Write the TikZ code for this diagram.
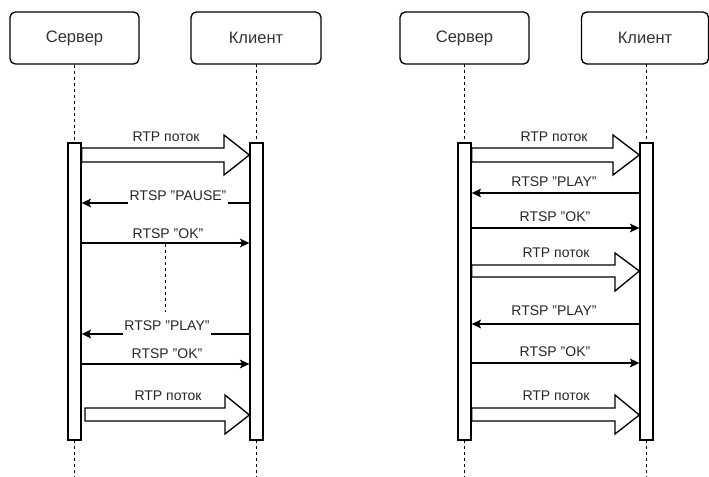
\documentclass[tikz,border=0pt]{standalone}
\usepackage{fontspec}
\setmainfont{Liberation Sans}
\usetikzlibrary{arrows.meta}
\begin{document}
\begin{tikzpicture}[x=0.75pt,y=-0.75pt,
  actor/.style={draw,line width=1pt,rounded corners=4pt,minimum width=96.75pt,minimum height=39pt,inner sep=0pt,font=\fontsize{12.4}{14}\selectfont,text=black!80},
  bar/.style={draw,line width=1pt,fill=white,minimum width=9.75pt,minimum height=222.75pt,inner sep=0pt},
  life/.style={line width=0.75pt,dash pattern=on 2.25pt off 2.25pt},
  msg/.style={line width=0.9pt,-{Stealth[length=7pt,width=6.5pt,inset=1.5pt]}},
  fat/.style={draw,line width=1pt,fill=white,line join=miter},
  lbl/.style={font=\fontsize{10.5}{12}\selectfont,text=black!85,inner xsep=1pt,inner ysep=0pt,anchor=base},
  lblw/.style={lbl,fill=white,text depth=3.6pt}]
\useasboundingbox (0,0) rectangle (709,477);

% ---------- left diagram ----------
\node[actor] (s1) at (74.5,38) {Сервер};
\node[actor,minimum width=97.5pt] (c1) at (256,38) {Клиент};
\coordinate (se1) at (74.5,477);
\coordinate (ce1) at (256.5,477);
\draw[life] (s1.south -| 74.5,0) -- (74.5,143);
\draw[life] (256.5,64) -- (256.5,143);
\draw[life] (74.5,440) -- (se1);
\draw[life] (256.5,440) -- (ce1);
\node[bar] (sb1) at (74.5,291.5) {};
\node[bar] (cb1) at (256.5,291.5) {};

\draw[fat] (sb1.east |- 0,148) -- (224,148) -- (224,135) -- (cb1.west |- 0,155) -- (224,175) -- (224,162) -- (sb1.east |- 0,162) -- cycle;
\node[lbl] (l1) at (166,142) {RTP поток};

\draw[msg] (cb1.west |- 0,203) -- (sb1.east |- 0,203);
\node[lblw] (l2) at (178,200) {RTSP "PAUSE"};

\draw[msg] (sb1.east |- 0,243) -- (cb1.west |- 0,243);
\node[lbl] (l3) at (168,238) {RTSP "OK"};

\coordinate (m1) at (165,244);
\coordinate (m2) at (165,312);
\draw[life] (m1) -- (m2);

\draw[msg] (cb1.west |- 0,334) -- (sb1.east |- 0,334);
\node[lblw] (l4) at (167,330) {RTSP "PLAY"};

\draw[msg] (sb1.east |- 0,364) -- (cb1.west |- 0,364);
\node[lbl] (l5) at (167,358) {RTSP "OK"};

\draw[fat] (85,408) -- (225,408) -- (225,395) -- (cb1.west |- 0,415) -- (225,434) -- (225,421) -- (85,421) -- cycle;
\node[lbl] (l6) at (168,400) {RTP поток};

% ---------- right diagram ----------
\node[actor] (s2) at (464.5,38) {Сервер};
\node[actor,minimum width=95.25pt] (c2) at (645,38) {Клиент};
\coordinate (se2) at (464.5,477);
\coordinate (ce2) at (646.5,477);
\draw[life] (464.5,64) -- (464.5,143);
\draw[life] (646.5,64) -- (646.5,143);
\draw[life] (464.5,440) -- (se2);
\draw[life] (646.5,440) -- (ce2);
\node[bar] (sb2) at (464.5,291.5) {};
\node[bar] (cb2) at (646.5,291.5) {};

\draw[fat] (sb2.east |- 0,148) -- (613,148) -- (613,135) -- (cb2.west |- 0,155) -- (613,175) -- (613,162) -- (sb2.east |- 0,162) -- cycle;
\node[lbl] (r1) at (554,142) {RTP поток};

\draw[msg] (cb2.west |- 0,193) -- (sb2.east |- 0,193);
\node[lbl] (r2) at (554,186) {RTSP "PLAY"};

\draw[msg] (sb2.east |- 0,228) -- (cb2.west |- 0,228);
\node[lbl] (r3) at (555,221) {RTSP "OK"};

\draw[fat] (sb2.east |- 0,265) -- (615,265) -- (615,253) -- (cb2.west |- 0,271) -- (615,291) -- (615,277) -- (sb2.east |- 0,277) -- cycle;
\node[lbl] (r4) at (556,257) {RTP поток};

\draw[msg] (cb2.west |- 0,324) -- (sb2.east |- 0,324);
\node[lbl] (r5) at (554,315) {RTSP "PLAY"};

\draw[msg] (sb2.east |- 0,363) -- (cb2.west |- 0,363);
\node[lbl] (r6) at (555,356) {RTSP "OK"};

\draw[fat] (sb2.east |- 0,408) -- (615,408) -- (615,395) -- (cb2.west |- 0,415) -- (615,434) -- (615,421) -- (sb2.east |- 0,421) -- cycle;
\node[lbl] (r7) at (556,400) {RTP поток};
\end{tikzpicture}
\end{document}
